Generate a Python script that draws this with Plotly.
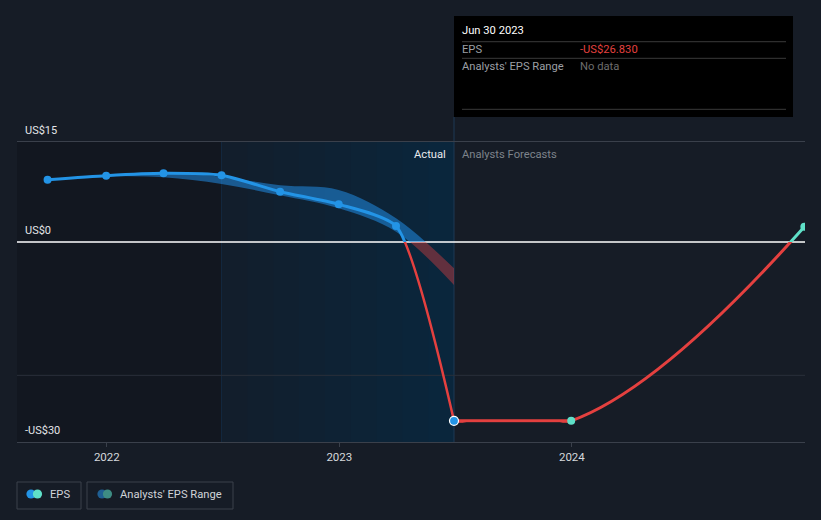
import pandas as pd
import plotly.graph_objects as go

# ---------------- data ----------------
ACTUAL_DATES = ['2021-09-30', '2021-12-31', '2022-03-31', '2022-06-30',
                '2022-09-30', '2022-12-31', '2023-03-31', '2023-06-30']
ACTUAL_EPS = [9.35, 9.95, 10.3, 10.0, 7.55, 5.65, 2.4, -26.83]

FORECAST_DATES = ['2023-06-30', '2023-12-31', '2024-12-31']
FORECAST_EPS = [-26.83, -26.83, 2.3]

RANGE_DATES = ['2021-12-31', '2022-03-31', '2022-06-30', '2022-09-30',
               '2022-12-31', '2023-03-31', '2023-06-30']
RANGE_HIGH = [10.0, 10.3, 9.8, 8.5, 7.8, 3.55, -3.95]
RANGE_LOW = [9.9, 9.7, 8.7, 7.0, 5.05, 1.55, -6.45]

X_TICK_VALUES = ['2022-01-01', '2023-01-01', '2024-01-01']
X_TICK_LABELS = ['2022', '2023', '2024']
Y_LABEL_VALUES = [15, 0, -30]
Y_LABEL_TEXTS = ['US$15', 'US$0', '-US$30']
Y_GRID_VALUE = -20

TOOLTIP_DATE = 'Jun 30 2023'
TOOLTIP_ROWS = [('EPS', '-US$26.830'), ("Analysts' EPS Range", 'No data')]
LEGEND_LABELS = ['EPS', "Analysts' EPS Range"]

# ---------------- styling ----------------
FONT = 'Roboto'
BG = '#161c26'
BLUE = '#2394e6'
RED = '#e4403f'
TEAL = '#5fe0c8'
Y_MIN, Y_MAX = -30, 15
X_RANGE = ['2021-08-13', '2025-01-01']
HIGHLIGHT_START = '2022-06-30'
LAST_ACTUAL = ACTUAL_DATES[-1]
TXT = 11.2


def frac(v):
    return (v - Y_MIN) / (Y_MAX - Y_MIN)


ZERO_F = frac(0)
CLIP_LOW = min(FORECAST_EPS) - 0.3

fig = go.Figure()

# --- analysts' range band: blue above zero (y), red below zero (y2)
for yax, col in (('y', 'rgba(33,150,243,0.5)'), ('y2', 'rgba(229,64,64,0.4)')):
    fig.add_trace(go.Scatter(x=RANGE_DATES, y=RANGE_LOW, mode='lines',
                             line=dict(width=0, shape='spline', smoothing=1),
                             yaxis=yax, hoverinfo='skip', showlegend=False))
    fig.add_trace(go.Scatter(x=RANGE_DATES, y=RANGE_HIGH, mode='lines',
                             line=dict(width=0, shape='spline', smoothing=1),
                             fill='tonexty', fillcolor=col,
                             yaxis=yax, hoverinfo='skip', showlegend=False))

# --- EPS lines
fig.add_trace(go.Scatter(x=ACTUAL_DATES, y=ACTUAL_EPS, mode='lines',
                         line=dict(color=BLUE, width=3, shape='spline', smoothing=0.6),
                         yaxis='y', hoverinfo='skip', showlegend=False))
fig.add_trace(go.Scatter(x=ACTUAL_DATES, y=ACTUAL_EPS, mode='lines',
                         line=dict(color=RED, width=2.5, shape='spline', smoothing=0.6),
                         yaxis='y2', hoverinfo='skip', showlegend=False))
fig.add_trace(go.Scatter(x=FORECAST_DATES, y=FORECAST_EPS, mode='lines',
                         line=dict(color=TEAL, width=3, shape='spline', smoothing=1.3),
                         yaxis='y', hoverinfo='skip', showlegend=False))
fig.add_trace(go.Scatter(x=FORECAST_DATES, y=FORECAST_EPS, mode='lines',
                         line=dict(color=RED, width=3, shape='spline', smoothing=1.3),
                         yaxis='y2', hoverinfo='skip', showlegend=False))
fig.add_trace(go.Scatter(x=FORECAST_DATES[:2], y=FORECAST_EPS[:2], mode='lines',
                         line=dict(color=RED, width=3),
                         yaxis='y2', hoverinfo='skip', showlegend=False))

# --- markers
fig.add_trace(go.Scatter(x=ACTUAL_DATES[:-1], y=ACTUAL_EPS[:-1], mode='markers',
                         marker=dict(color=BLUE, size=8),
                         yaxis='y3', hoverinfo='skip', showlegend=False))
fig.add_trace(go.Scatter(x=ACTUAL_DATES[-1:], y=ACTUAL_EPS[-1:], mode='markers',
                         marker=dict(color=BLUE, size=9, line=dict(color='white', width=1.2)),
                         yaxis='y3', hoverinfo='skip', showlegend=False))
fig.add_trace(go.Scatter(x=FORECAST_DATES[1:], y=FORECAST_EPS[1:], mode='markers',
                         marker=dict(color=TEAL, size=8),
                         yaxis='y3', hoverinfo='skip', showlegend=False))

# ---------------- shapes ----------------
shapes = []
# darker past region
shapes.append(dict(type='rect', xref='x', yref='paper', x0=X_RANGE[0], x1=LAST_ACTUAL,
                   y0=0, y1=1, fillcolor='rgba(0,0,0,0.15)', line=dict(width=0), layer='below'))
# blue gradient highlight (stacked translucent rects)
t0, t1 = pd.Timestamp(HIGHLIGHT_START), pd.Timestamp(LAST_ACTUAL)
shapes.append(dict(type='rect', xref='x', yref='paper', x0=HIGHLIGHT_START, x1=LAST_ACTUAL,
                   y0=0, y1=1, fillcolor='rgba(33,150,243,0.06)', line=dict(width=0), layer='below'))
N = 9
for k in range(1, N):
    xs = t0 + (t1 - t0) * k / N
    shapes.append(dict(type='rect', xref='x', yref='paper', x0=xs.strftime('%Y-%m-%d %H:%M'),
                       x1=LAST_ACTUAL, y0=0, y1=1, fillcolor='rgba(33,150,243,0.01)',
                       line=dict(width=0), layer='below'))
# edges of the highlight
shapes.append(dict(type='line', xref='x', yref='paper', x0=HIGHLIGHT_START, x1=HIGHLIGHT_START,
                   y0=0, y1=1, line=dict(color='rgba(33,150,243,0.12)', width=1), layer='below'))
shapes.append(dict(type='line', xref='x', yref='paper', x0=LAST_ACTUAL, x1=LAST_ACTUAL,
                   y0=0, y1=1.0833, line=dict(color='#1c3954', width=1), layer='below'))
# grid / zero lines
shapes.append(dict(type='line', xref='paper', yref='y3', x0=0, x1=1, y0=Y_GRID_VALUE, y1=Y_GRID_VALUE,
                   line=dict(color='#29303a', width=1), layer='below'))
shapes.append(dict(type='line', xref='paper', yref='y3', x0=0, x1=1, y0=0, y1=0,
                   line=dict(color='#ffffff', width=1.6), layer='below'))
# tooltip box
shapes.append(dict(type='rect', xref='x', yref='paper', xsizemode='pixel', xanchor=LAST_ACTUAL,
                   x0=0, x1=339, y0=1.0833, y1=1.42, fillcolor='#000000',
                   line=dict(width=0), layer='below'))
for yy in (1.3343, 1.279, 1.109):
    shapes.append(dict(type='line', xref='x', yref='paper', xsizemode='pixel', xanchor=LAST_ACTUAL,
                       x0=8, x1=332, y0=yy, y1=yy, line=dict(color='#3a3a3a', width=1), layer='below'))
# legend boxes
for bx0, bx1 in ((0, 64), (70, 216)):
    shapes.append(dict(type='rect', xref='paper', yref='paper', xsizemode='pixel', ysizemode='pixel',
                       xanchor=0, yanchor=0, x0=bx0, x1=bx1, y0=-40, y1=-67,
                       fillcolor='rgba(0,0,0,0)', line=dict(color='#3a404b', width=1), layer='below'))
for cx, col in ((14, BLUE), (20.5, TEAL), (85, '#1f5f93'), (90.5, '#3e8d84')):
    shapes.append(dict(type='circle', xref='paper', yref='paper', xsizemode='pixel', ysizemode='pixel',
                       xanchor=0, yanchor=0, x0=cx - 4.6, x1=cx + 4.6, y0=-52 - 4.6, y1=-52 + 4.6,
                       fillcolor=col, line=dict(width=0), layer='below'))

# ---------------- annotations ----------------
ann = []
for v, t in zip(Y_LABEL_VALUES, Y_LABEL_TEXTS):
    ann.append(dict(text=t, xref='paper', yref='y3', x=0, y=v, xanchor='left', yanchor='middle',
                    xshift=6, yshift=12, showarrow=False,
                    font=dict(family=FONT, size=11, color='#e3e5e8')))
ann.append(dict(text='Actual', xref='x', yref='paper', x=LAST_ACTUAL, y=0.96, xanchor='right',
                yanchor='middle', xshift=-6, showarrow=False,
                font=dict(family=FONT, size=TXT, color='#e8eaed')))
ann.append(dict(text='Analysts Forecasts', xref='x', yref='paper', x=LAST_ACTUAL, y=0.96,
                xanchor='left', yanchor='middle', xshift=6, showarrow=False,
                font=dict(family=FONT, size=TXT, color='#7d838b')))
ann.append(dict(text=TOOLTIP_DATE, xref='x', yref='paper', x=LAST_ACTUAL, y=1.37, xanchor='left',
                yanchor='middle', xshift=6, showarrow=False,
                font=dict(family=FONT, size=TXT, color='#ffffff')))
row_y = [1.309, 1.2533]
val_cols = [RED, '#6d6d6d']
for (lab, val), yy, vc in zip(TOOLTIP_ROWS, row_y, val_cols):
    ann.append(dict(text=lab, xref='x', yref='paper', x=LAST_ACTUAL, y=yy, xanchor='left',
                    yanchor='middle', xshift=6, showarrow=False,
                    font=dict(family=FONT, size=TXT, color='#9b9fa4')))
    ann.append(dict(text=val, xref='x', yref='paper', x=LAST_ACTUAL, y=yy, xanchor='left',
                    yanchor='middle', xshift=124, showarrow=False,
                    font=dict(family=FONT, size=TXT, color=vc)))
for lab, xs in zip(LEGEND_LABELS, (31, 101)):
    ann.append(dict(text=lab, xref='paper', yref='paper', x=0, y=0, xanchor='left',
                    yanchor='middle', xshift=xs, yshift=-52, showarrow=False,
                    font=dict(family=FONT, size=TXT, color='#d0d3d8')))

fig.update_layout(
    width=821, height=520,
    margin=dict(l=17, r=16, t=142, b=78),
    paper_bgcolor=BG, plot_bgcolor='rgba(0,0,0,0)',
    font=dict(family=FONT, color='#d0d3d8'),
    showlegend=False, hovermode=False,
    xaxis=dict(type='date', range=X_RANGE, anchor='y3', tickvals=X_TICK_VALUES,
               ticktext=X_TICK_LABELS, showgrid=False, zeroline=False,
               showline=True, mirror=True, linecolor='#3a404b', linewidth=1,
               ticks='outside', ticklen=4, tickcolor='#3a404b',
               tickfont=dict(family=FONT, size=11.5, color='#d5d8dc'), fixedrange=True),
    yaxis=dict(domain=[ZERO_F, 1], range=[0, Y_MAX], anchor='x', visible=False,
               showgrid=False, zeroline=False, fixedrange=True),
    yaxis2=dict(domain=[frac(CLIP_LOW), ZERO_F], range=[CLIP_LOW, 0], anchor='x',
                visible=False, showgrid=False, zeroline=False, fixedrange=True),
    yaxis3=dict(domain=[0, 1], range=[Y_MIN, Y_MAX], anchor='x', visible=False,
                showgrid=False, zeroline=False, fixedrange=True),
    shapes=shapes,
    annotations=ann,
)

fig.write_html('out.html', config={'displayModeBar': False})
